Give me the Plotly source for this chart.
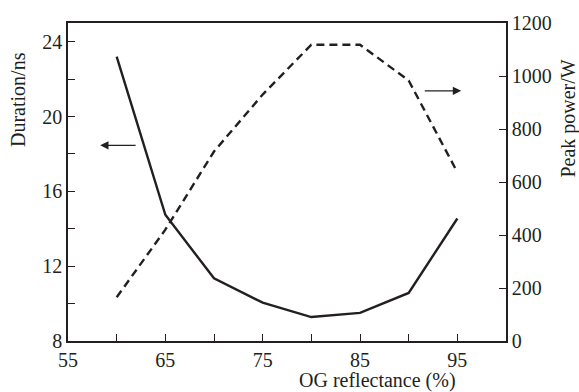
import plotly.graph_objects as go

reflectance = [60, 65, 70, 75, 80, 85, 90, 95]
duration_ns = [23.2, 14.75, 11.35, 10.05, 9.28, 9.5, 10.57, 14.55]
peak_power_w = [165, 420, 715, 930, 1118, 1118, 983, 637]

x_tickvals = [55, 60, 65, 70, 75, 80, 85, 90, 95]
x_ticktext = ["55", "", "65", "", "75", "", "85", "", "95"]
y_tickvals = [8, 10, 12, 14, 16, 18, 20, 22, 24]
y_ticktext = ["8", "", "12", "", "16", "", "20", "", "24"]
y2_tickvals = [0, 200, 400, 600, 800, 1000, 1200]
y2_ticktext = ["0", "200", "400", "600", "800", "1000", "1200"]

INK = "#231f20"
FONT = "Liberation Serif"

fig = go.Figure()
fig.add_trace(go.Scatter(x=reflectance, y=duration_ns, mode="lines",
                         line=dict(color=INK, width=2.4), yaxis="y", showlegend=False))
fig.add_trace(go.Scatter(x=reflectance, y=peak_power_w, mode="lines",
                         line=dict(color=INK, width=2.4, dash="8px,5px"), yaxis="y2", showlegend=False))

axis_common = dict(showline=True, linecolor=INK, linewidth=1.5, ticks="inside", ticklen=7,
                   tickwidth=1.3, tickcolor=INK, showgrid=False, zeroline=False,
                   tickfont=dict(family=FONT, size=20, color=INK))

fig.update_layout(
    width=579, height=392,
    margin=dict(l=68, r=73, t=19, b=51),
    paper_bgcolor="white", plot_bgcolor="white",
    xaxis=dict(range=[55, 100], tickmode="array", tickvals=x_tickvals, ticktext=x_ticktext,
               mirror=True, ticklabelstandoff=0, **axis_common),
    yaxis=dict(range=[8, 25], tickmode="array", tickvals=y_tickvals, ticktext=y_ticktext,
               **axis_common),
    yaxis2=dict(range=[0, 1200], tickmode="array", tickvals=y2_tickvals, ticktext=y2_ticktext,
                overlaying="y", side="right", **axis_common),
    annotations=[
        dict(text="OG reflectance (%)", xref="paper", yref="paper", x=0.707, y=-0.124,
             showarrow=False, xanchor="center", yanchor="middle",
             font=dict(family=FONT, size=20, color=INK)),
        dict(text="Duration/ns", xref="paper", yref="paper", x=-0.114, y=0.758,
             showarrow=False, textangle=-90, xanchor="center", yanchor="middle",
             font=dict(family=FONT, size=20, color=INK)),
        dict(text="Peak power/W", xref="paper", yref="paper", x=1.142, y=0.70,
             showarrow=False, textangle=-90, xanchor="center", yanchor="middle",
             font=dict(family=FONT, size=20, color=INK)),
        dict(x=58.3, y=18.46, ax=62.1, ay=18.46, xref="x", yref="y", axref="x", ayref="y",
             showarrow=True, arrowhead=2, arrowsize=1.2, arrowwidth=1.4, arrowcolor=INK, text=""),
        dict(x=95.4, y=944, ax=91.5, ay=944, xref="x", yref="y2", axref="x", ayref="y2",
             showarrow=True, arrowhead=2, arrowsize=1.2, arrowwidth=1.4, arrowcolor=INK, text=""),
    ],
)

fig.write_html("out.html")
